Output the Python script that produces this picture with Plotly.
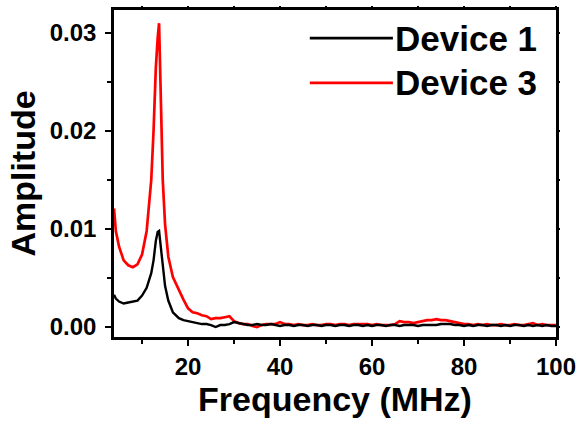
import plotly.graph_objects as go

# ---- data ----
freq_head = [3.9, 4.3, 5, 6, 7, 8, 9, 10, 11, 12, 12.5, 13, 13.4, 13.7, 14.0, 14.5, 15, 15.7, 16.7,
             18, 19, 20, 21, 22, 23, 24, 25, 26, 27, 28, 29, 30]
freq_tail = list(range(31, 101))

dev3_head = [0.0121, 0.0098, 0.0082, 0.0068, 0.0063, 0.0061, 0.0064, 0.0074, 0.0098, 0.0150, 0.0200,
             0.0265, 0.0295, 0.0310, 0.0250, 0.0150, 0.0105, 0.0072, 0.0051, 0.0037, 0.0028, 0.0019,
             0.0015, 0.0014, 0.0012, 0.0011, 0.0008, 0.0009, 0.0009, 0.0010, 0.0011, 0.0006]
dev1_head = [0.0033, 0.0029, 0.0026, 0.0024, 0.0025, 0.0026, 0.0027, 0.0032, 0.0040, 0.0055, 0.0068,
             0.0088, 0.0097, 0.0098, 0.0085, 0.0062, 0.0042, 0.0027, 0.0015, 0.0009, 0.0007, 0.0006,
             0.0005, 0.0004, 0.0003, 0.0003, 0.0002, 0.0000, 0.0002, 0.0002, 0.0003, 0.0005]

# tail values in units of 1e-4
dev3_tail_e4 = [4, 3, 3, 1, 0, 2, 3, 3, 3, 5, 3, 3, 2, 3, 2, 2, 3, 2, 2, 3, 3, 2, 3, 3, 2, 3, 3, 3, 3, 2,
                3, 2, 2, 2, 3, 6, 5, 5, 4, 5, 6, 7, 7, 8, 7, 7, 6, 5, 4, 3, 3, 2, 3, 2, 3, 2, 2, 3, 2, 2,
                3, 2, 2, 3, 4, 2, 3, 2, 2, 2]
dev1_tail_e4 = [4, 3, 2, 2, 3, 2, 2, 3, 2, 1, 2, 2, 1, 2, 2, 1, 2, 2, 1, 2, 2, 1, 2, 2, 1, 2, 2, 1, 2, 1,
                2, 2, 1, 2, 2, 1, 2, 2, 2, 1, 2, 2, 2, 2, 3, 3, 3, 2, 2, 1, 2, 1, 2, 2, 1, 2, 2, 1, 2, 1,
                2, 2, 1, 2, 1, 2, 1, 2, 1, 1]

freq = freq_head + freq_tail
device1 = dev1_head + [v * 1e-4 for v in dev1_tail_e4]
device3 = dev3_head + [v * 1e-4 for v in dev3_tail_e4]

series_names = ["Device 1", "Device 3"]
series_colors = ["#000000", "#ff0000"]

x_ticks = [20, 40, 60, 80, 100]
y_ticks = [0.00, 0.01, 0.02, 0.03]
x_range = [3.9, 100]
y_range = [-0.00102, 0.03235]

FONT = "Liberation Sans, Arial, sans-serif"

fig = go.Figure()
fig.add_trace(go.Scatter(x=freq, y=device3, mode="lines", name=series_names[1],
                         line=dict(color=series_colors[1], width=2.7), showlegend=False))
fig.add_trace(go.Scatter(x=freq, y=device1, mode="lines", name=series_names[0],
                         line=dict(color=series_colors[0], width=2.4), showlegend=False))
# empty trace so the top/right tick-only axes are drawn
fig.add_trace(go.Scatter(x=[], y=[], xaxis="x2", yaxis="y2", showlegend=False, hoverinfo="skip"))

# manual legend (long line samples like the reference)
leg_y = [0.914, 0.777]
for name, col, yy in zip(series_names, series_colors, leg_y):
    fig.add_shape(type="line", xref="paper", yref="paper", x0=0.443, x1=0.631, y0=yy, y1=yy,
                  line=dict(color=col, width=2.6))
    fig.add_annotation(xref="paper", yref="paper", x=0.632, y=yy, text="<b>%s</b>" % name,
                       showarrow=False, xanchor="left", yanchor="middle",
                       font=dict(family=FONT, size=35, color="black"))

axis_common = dict(
    showline=True, linecolor="black", linewidth=2.5, mirror=True,
    ticks="outside", ticklen=6, tickwidth=2, tickcolor="black",
    showgrid=False, zeroline=False, automargin=False,
    tickfont=dict(family=FONT, size=24, color="black"),
)

fig.update_layout(
    xaxis=dict(
        range=x_range, tickvals=x_ticks, ticktext=["<b>%d</b>" % v for v in x_ticks],
        minor=dict(ticks="outside", ticklen=4, tickwidth=2, tickcolor="black", dtick=10, tick0=0),
        title=dict(text="<b>Frequency (MHz)</b>", font=dict(family=FONT, size=34, color="black"), standoff=6),
        **axis_common,
    ),
    yaxis=dict(
        range=y_range, tickvals=y_ticks, ticktext=["<b>%.2f</b>" % v for v in y_ticks],
        minor=dict(ticks="outside", ticklen=4, tickwidth=2, tickcolor="black", dtick=0.005, tick0=0),
        title=dict(text="<b>Amplitude</b>", font=dict(family=FONT, size=34, color="black"), standoff=4),
        ticklabelstandoff=4,
        **axis_common,
    ),
    # short outward ticks on the top and right frame edges
    xaxis2=dict(
        overlaying="x", side="top", range=x_range, tickvals=x_ticks, showticklabels=False,
        ticks="outside", ticklen=3, tickwidth=2, tickcolor="black",
        minor=dict(ticks="outside", ticklen=3, tickwidth=2, tickcolor="black", dtick=10, tick0=0),
        showline=False, showgrid=False, zeroline=False, automargin=False,
    ),
    yaxis2=dict(
        overlaying="y", side="right", range=y_range, tickvals=y_ticks, showticklabels=False,
        ticks="outside", ticklen=3, tickwidth=2, tickcolor="black",
        minor=dict(ticks="outside", ticklen=3, tickwidth=2, tickcolor="black", dtick=0.005, tick0=0),
        showline=False, showgrid=False, zeroline=False, automargin=False,
    ),
    width=580, height=423,
    margin=dict(l=114, r=24, t=10, b=86),
    paper_bgcolor="white", plot_bgcolor="white",
    font=dict(family=FONT, color="black"),
)

fig.write_html("out.html", config={"displayModeBar": False},
               post_script="document.body.style.margin='0';document.body.style.overflow='hidden';")
